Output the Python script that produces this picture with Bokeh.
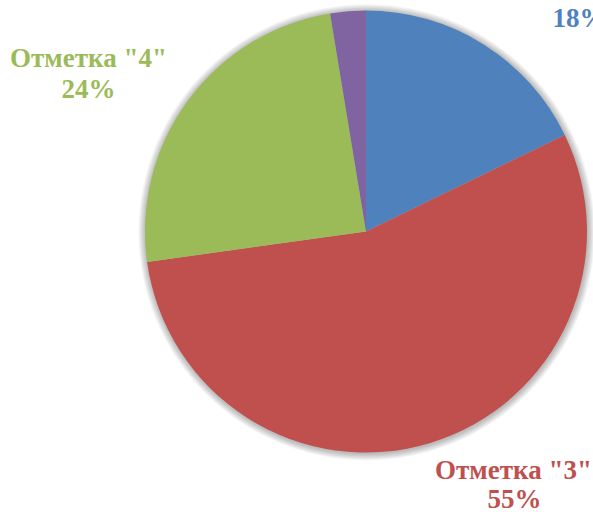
import math
from bokeh.plotting import figure
from bokeh.models import Range1d, ColumnDataSource
from bokeh.core.properties import value
from bokeh.embed import file_html
from bokeh.resources import INLINE

# ---- data ----
categories = ['Отметка "5"', 'Отметка "3"', 'Отметка "4"', 'Отметка "2"']
shares = [17.8, 55.0, 24.6, 2.6]          # slice sizes
label_pct = ["18%", "55%", "24%", None]    # printed labels
show_cat = [False, True, True, False]
colors = ["#4F81BD", "#C0504D", "#9BBB59", "#8064A2"]

W, H = 593, 512
p = figure(width=W, height=H, output_backend="svg", toolbar_location=None,
           x_range=Range1d(0, W), y_range=Range1d(0, H), min_border=0)
p.axis.visible = False
p.grid.visible = False
p.outline_line_color = None
p.background_fill_color = "white"
p.border_fill_color = "white"

def Y(page_y):
    return H - page_y

cx, cy, r = 365.5, Y(231), 221

# soft shadow / glow
for k in range(1, 9):
    p.circle(x=[cx + 0.6], y=[cy - 0.8], radius=r + k * 0.9, fill_color="#000000",
             fill_alpha=0.035, line_color=None)

total = sum(shares)
starts, ends = [], []
a = math.pi / 2
for s in shares:
    span = 2 * math.pi * s / total
    starts.append(a - span)
    ends.append(a)
    a -= span

src = ColumnDataSource(dict(start=starts, end=ends, color=colors))
p.wedge(x=cx, y=cy, radius=r, start_angle="start", end_angle="end",
        fill_color="color", line_color=None, source=src)

# label layout (page pixel positions: center x, baseline y of each line)
label_pos = {
    0: [(579, 17)],
    1: [(513, 469), (514, 498)],
    2: [(88, 57), (88, 88)],
}
for i, pos in label_pos.items():
    lines = []
    if show_cat[i]:
        lines.append(categories[i])
    lines.append(label_pct[i])
    for (x, y), t in zip(pos, lines):
        p.text(x=[x], y=[Y(y)], text=[t], text_font=value("Liberation Serif"),
               text_font_style="bold", text_font_size="27px", text_color=colors[i],
               text_align="center", text_baseline="alphabetic")

open("out.html", "w").write(file_html(p, INLINE))
